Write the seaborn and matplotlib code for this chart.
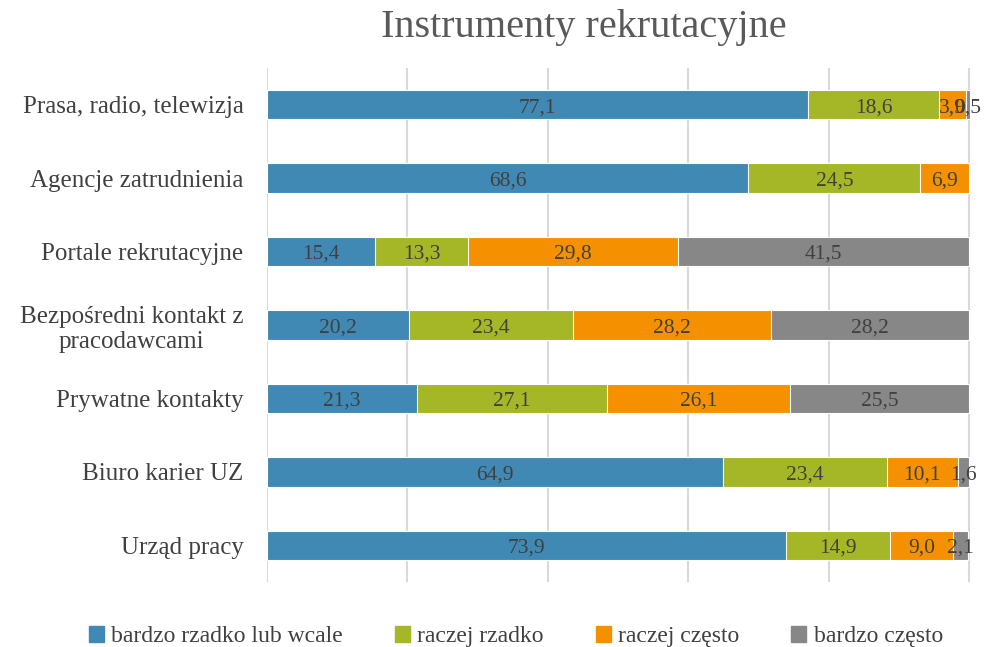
import seaborn as sns
import matplotlib.pyplot as plt
import pandas as pd
import numpy as np

categories = ["Prasa, radio, telewizja", "Agencje zatrudnienia", "Portale rekrutacyjne",
              "Bezpośredni kontakt z\npracodawcami", "Prywatne kontakty", "Biuro karier UZ",
              "Urząd pracy"]
series = ["bardzo rzadko lub wcale", "raczej rzadko", "raczej często", "bardzo często"]
bardzo_rzadko = [77.1, 68.6, 15.4, 20.2, 21.3, 64.9, 73.9]
raczej_rzadko = [18.6, 24.5, 13.3, 23.4, 27.1, 23.4, 14.9]
raczej_czesto = [3.9, 6.9, 29.8, 28.2, 26.1, 10.1, 9.0]
bardzo_czesto = [0.5, 0.0, 41.5, 28.2, 25.5, 1.6, 2.1]
colors = ["#3F89B4", "#A5B727", "#F59100", "#878787"]


def create_chart():
    sns.set_style("white")
    plt.rcParams["font.family"] = ["Liberation Serif", "DejaVu Serif"]

    values = np.array([bardzo_rzadko, raczej_rzadko, raczej_czesto, bardzo_czesto])
    cum = values.cumsum(axis=0)

    fig = plt.figure(figsize=(9.86, 6.47), dpi=100)
    ax = fig.add_axes([267 / 986, 1 - 582 / 647, (971 - 267) / 986, 514 / 647])

    # stacked bars: draw cumulative totals from the back forward
    for i in range(3, -1, -1):
        df = pd.DataFrame({"kategoria": categories, "wartosc": cum[i]})
        sns.barplot(data=df, y="kategoria", x="wartosc", orient="h", color=colors[i],
                    width=0.4, edgecolor="white", linewidth=0.8, saturation=1,
                    ax=ax, zorder=3)

    # value labels centred on each segment
    for i in range(4):
        for j in range(len(categories)):
            v = values[i, j]
            if v <= 0:
                continue
            xc = cum[i, j] - v / 2
            ax.text(xc, j + 0.04, f"{v:.1f}".replace(".", ","), ha="center", va="center",
                    fontsize=15.5, color="#404040", zorder=5)

    ax.set_xlim(0, 100.3)
    ax.set_ylim(6.5, -0.5)
    ax.set_xticks(np.arange(0, 101, 20))
    ax.set_xticklabels([])
    ax.xaxis.grid(True, color="#D9D9D9", linewidth=1.5, zorder=0)
    ax.set_axisbelow(True)
    ax.tick_params(axis="y", length=0, pad=17, labelsize=18, labelcolor="#404040")
    ax.tick_params(axis="x", length=0)
    for lab in ax.get_yticklabels():
        lab.set_ha("right")
        lab.set_multialignment("center")
    ax.set_xlabel("")
    ax.set_ylabel("")
    sns.despine(ax=ax, left=True, bottom=True)

    fig.suptitle("Instrumenty rekrutacyjne", x=0.592, y=0.958, va="center", fontsize=29,
                 color="#595959")

    handles = [plt.Rectangle((0, 0), 1, 1, color=c) for c in colors]
    fig.legend(handles, series, loc="center", bbox_to_anchor=(0.523, 0.016), ncol=4,
               frameon=False, fontsize=17, handlelength=0.65, handleheight=0.65,
               handletextpad=0.3, columnspacing=2.2, labelcolor="#404040")

    fig.savefig("out.png", dpi=100)
    plt.close(fig)


if __name__ == "__main__":
    create_chart()
